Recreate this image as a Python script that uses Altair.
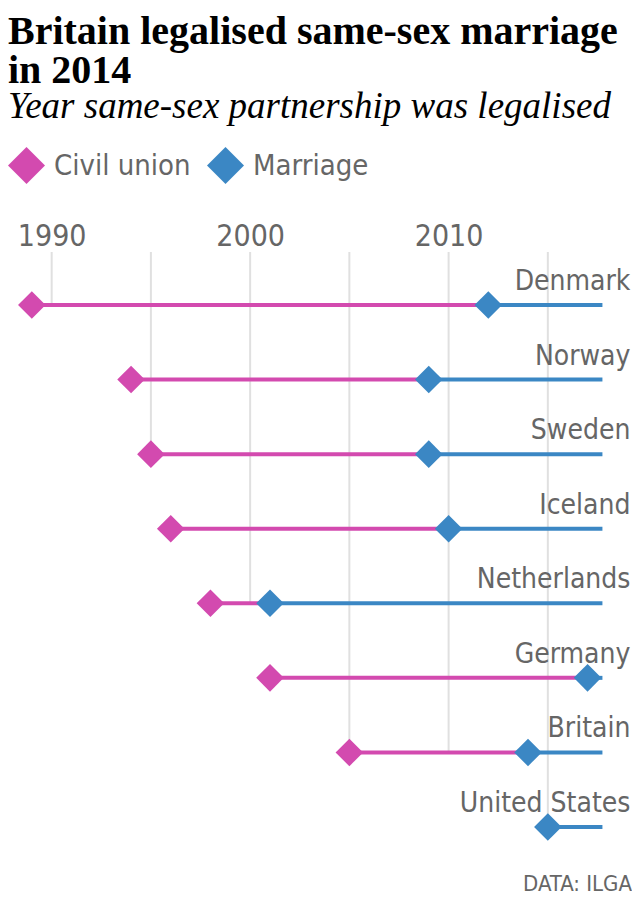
import altair as alt
import pandas as pd

countries = ["Denmark", "Norway", "Sweden", "Iceland", "Netherlands",
             "Germany", "Britain", "United States"]
civil_union = [1989, 1994, 1995, 1996, 1998, 2001, 2005, None]
marriage = [2012, 2009, 2009, 2010, 2001, 2017, 2014, 2015]
end_year = 2017.75
series = ["Civil union", "Marriage"]
colors = ["#d34aaf", "#3b87c4"]
grid_years = [1990, 1995, 2000, 2005, 2010, 2015]
label_years = [1990, 2000, 2010]
source = "DATA: ILGA"

SANS = "DejaVu Sans Condensed"
GREY = "#666666"

df = pd.DataFrame({
    "country": countries,
    "civil": civil_union,
    "marriage": marriage,
    "end": [end_year] * len(countries),
})
civil_df = df.dropna(subset=["civil"])

pts = []
for c, cu, m in zip(countries, civil_union, marriage):
    if cu is not None:
        pts.append({"country": c, "year": cu, "type": series[0]})
    pts.append({"country": c, "year": m, "type": series[1]})
pts = pd.DataFrame(pts)

# each gridline runs down to the last country whose line covers that year
starts = [cu if cu is not None else m for cu, m in zip(civil_union, marriage)]
grid_rows = []
for yr in grid_years:
    last = [c for c, s in zip(countries, starts) if s <= yr][-1]
    grid_rows.append({"year": yr, "country": last})
grid_df = pd.DataFrame(grid_rows)

W, H = 624, 575
xscale = alt.Scale(domain=[1987.80, 2019.24], nice=False, zero=False)
yscale = alt.Scale(type="point", range=[53, 575], padding=0)
y = alt.Y("country:N", sort=countries, scale=yscale, axis=None)

xaxis = alt.Axis(
    orient="top", values=label_years, format="d",
    grid=False, domain=False, ticks=False, tickSize=0, labelFlush=False,
    labelFont=SANS, labelFontSize=30, labelColor=GREY,
    labelBaseline="alphabetic", labelPadding=7, title=None,
)

grid = alt.Chart(grid_df).mark_rule(color="#e0e0e0", strokeWidth=2).encode(
    x=alt.X("year:Q", scale=xscale, axis=xaxis),
    y=y,
    y2=alt.value(0),
)
pink = alt.Chart(civil_df).mark_rule(color=colors[0], strokeWidth=4).encode(
    x=alt.X("civil:Q", scale=xscale),
    x2="marriage:Q",
    y=y,
)
blue = alt.Chart(df).mark_rule(color=colors[1], strokeWidth=4).encode(
    x=alt.X("marriage:Q", scale=xscale),
    x2="end:Q",
    y=y,
)
points = alt.Chart(pts).mark_point(
    shape="diamond", filled=True, size=760, opacity=1, strokeWidth=0
).encode(
    x=alt.X("year:Q", scale=xscale),
    y=y,
    color=alt.Color(
        "type:N",
        scale=alt.Scale(domain=series, range=colors),
        legend=alt.Legend(
            orient="none", legendX=0, legendY=-105, direction="horizontal",
            title=None, symbolType="diamond", symbolSize=1369,
            symbolStrokeWidth=0, symbolOpacity=1,
            labelFont=SANS, labelFontSize=29, labelColor=GREY,
            labelOffset=9, labelLimit=400, columnPadding=16, padding=0,
        ),
    ),
)
labels = alt.Chart(df).mark_text(
    align="right", baseline="alphabetic", dx=28, dy=-15,
    font=SANS, fontSize=28, color=GREY,
).encode(
    x=alt.X("end:Q", scale=xscale),
    y=y,
    text="country:N",
)
src = alt.Chart(pd.DataFrame({"t": [source]})).mark_text(
    align="right", baseline="alphabetic", font=SANS, fontSize=22, color=GREY,
).encode(
    x=alt.value(W), y=alt.value(639), text="t:N",
)

chart = alt.layer(grid, pink, blue, points, labels, src).properties(
    width=W, height=H,
    padding={"left": 0, "right": 0, "top": 4, "bottom": 0},
    title=alt.TitleParams(
        text=["Britain legalised same-sex marriage", "in 2014"],
        subtitle="Year same-sex partnership was legalised",
        anchor="start", font="Liberation Serif", fontSize=40,
        fontWeight="bold", lineHeight=39, color="#000000",
        subtitleFont="Liberation Serif", subtitleFontStyle="italic",
        subtitleFontSize=37, subtitleColor="#000000",
        subtitlePadding=-2, offset=22,
    ),
).configure_view(strokeWidth=0)

chart.save("out.html", embed_options={"renderer": "svg", "actions": False})
